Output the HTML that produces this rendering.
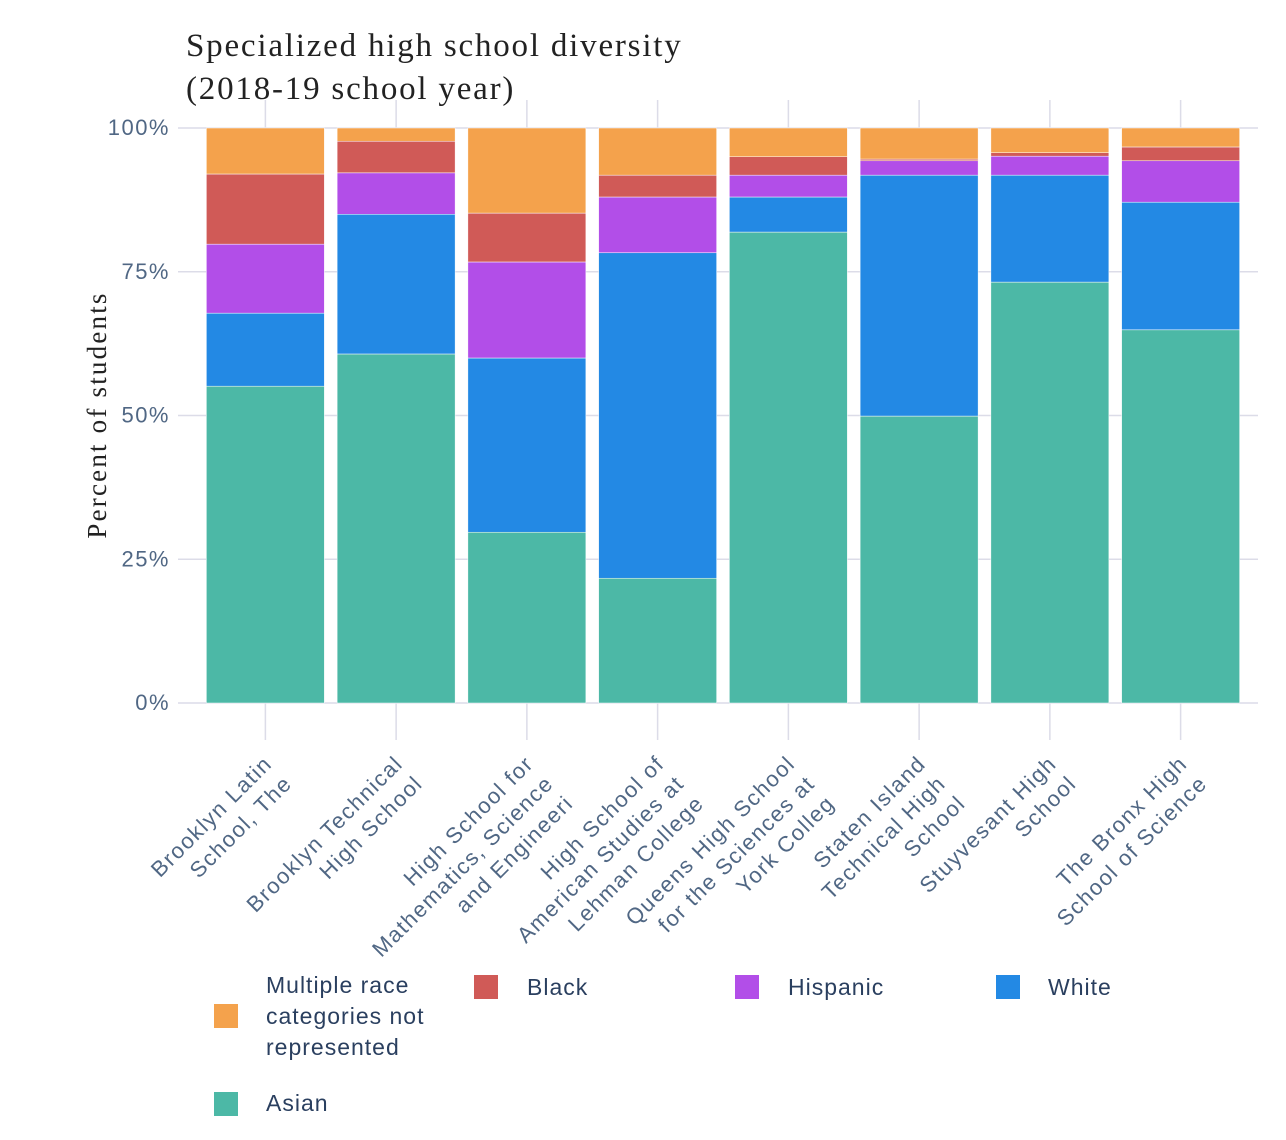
<!DOCTYPE html>
<html><head><meta charset="utf-8">
<style>
html,body{margin:0;padding:0;background:#fff;}
svg{display:block;}
</style></head>
<body>
<svg id="chart" width="1286" height="1140" viewBox="0 0 1286 1140">
<g id="grid"></g>
<g id="bars"></g>
<g id="axes"></g>
<text x="186" y="56" font-family="'Liberation Serif',serif" font-size="33" letter-spacing="1.8" fill="#222">Specialized high school diversity</text>
<text x="186" y="99" font-family="'Liberation Serif',serif" font-size="33" letter-spacing="1.8" fill="#222">(2018-19 school year)</text>
<text transform="translate(106,415) rotate(-90)" text-anchor="middle" font-family="'Liberation Serif',serif" font-size="27" letter-spacing="2.2" fill="#222">Percent of students</text>
<g id="legend"></g>
</svg>
<script>
const categories = [
 ["Brooklyn Latin","School, The"],
 ["Brooklyn Technical","High School"],
 ["High School for","Mathematics, Science","and Engineeri"],
 ["High School of","American Studies at","Lehman College"],
 ["Queens High School","for the Sciences at","York Colleg"],
 ["Staten Island","Technical High","School"],
 ["Stuyvesant High","School"],
 ["The Bronx High","School of Science"]
];
const asian =    [55.1,60.7,29.7,21.7,81.9,49.9,73.2,64.9];
const white =    [12.7,24.3,30.3,56.6, 6.1,41.9,18.6,22.2];
const hispanic = [12.0, 7.2,16.7, 9.7, 3.8, 2.5, 3.3, 7.2];
const black =    [12.2, 5.5, 8.5, 3.8, 3.2, 0.3, 0.6, 2.4];
const multiple = [ 8.0, 2.3,14.8, 8.2, 5.0, 5.4, 4.3, 3.3];
const yTicks = [0,25,50,75,100];
const yTickLabels = ["0%","25%","50%","75%","100%"];

const NS="http://www.w3.org/2000/svg";
const L=200,R=1246,T=128,B=703;
const band=(R-L)/categories.length, barW=118;
const y=v=>B-(B-T)*v/100;
const xc=i=>L+band*(i+0.5);
function mk(tag,attrs,parent){const e=document.createElementNS(NS,tag);for(const k in attrs)e.setAttribute(k,attrs[k]);parent.appendChild(e);return e;}
const grid=document.getElementById('grid'),bars=document.getElementById('bars'),axes=document.getElementById('axes'),legend=document.getElementById('legend');

yTicks.forEach((t,i)=>{
 const ln=mk('line',{x1:178,x2:1258,y1:y(t),y2:y(t),stroke:'#dcdce8','stroke-width':1.5},grid);
 
 
 const tx=mk('text',{x:170,y:y(t)+7,'text-anchor':'end','font-family':"'Liberation Sans',sans-serif",'font-size':22,'letter-spacing':1.5,fill:'#506784'},axes);
 tx.textContent=yTickLabels[i];
 
 
});
categories.forEach((c,i)=>{
 const ln=mk('line',{x1:xc(i),x2:xc(i),y1:100,y2:740,stroke:'#dcdce8','stroke-width':1.5},grid);
 
 
});

const series=[["Asian",asian,"#4cb8a6"],["White",white,"#2389e4"],["Hispanic",hispanic,"#b24ee8"],["Black",black,"#d05a57"],["Multiple race categories not represented",multiple,"#f4a24c"]];
categories.forEach((c,i)=>{
 let base=0;
 series.forEach(s=>{
  const v=s[1][i];
  const r=mk('rect',{x:xc(i)-barW/2,y:y(base+v),width:barW,height:y(base)-y(base+v),fill:s[2],stroke:'#fff','stroke-width':0.5},bars);
  
  
  base+=v;
 });
 const g=mk('g',{transform:`translate(${xc(i)+8},765) rotate(-45)`},axes);
 
 
 c.forEach((line,j)=>{
  const t=mk('text',{x:0,y:j*28,'text-anchor':'end','font-family':"'Liberation Sans',sans-serif",'font-size':22,'letter-spacing':1.5,fill:'#506784'},g);
  t.textContent=line;
 });
});

const leg=[
 {lines:["Multiple race","categories not","represented"],color:"#f4a24c",sx:214,sy:1004,tx:266,ty:993},
 {lines:["Black"],color:"#d05a57",sx:474,sy:975,tx:527,ty:995},
 {lines:["Hispanic"],color:"#b24ee8",sx:735,sy:975,tx:788,ty:995},
 {lines:["White"],color:"#2389e4",sx:996,sy:975,tx:1048,ty:995},
 {lines:["Asian"],color:"#4cb8a6",sx:214,sy:1092,tx:266,ty:1111}
];
leg.forEach(e=>{
 const g=mk('g',{},legend);
 
 
 mk('rect',{x:e.sx,y:e.sy,width:24,height:24,fill:e.color},g);
 e.lines.forEach((l,j)=>{
  const t=mk('text',{x:e.tx,y:e.ty+j*31,'font-family':"'Liberation Sans',sans-serif",'font-size':23,'letter-spacing':1,fill:'#2a3f5f'},g);
  t.textContent=l;
 });
});
</script>
</body></html>
